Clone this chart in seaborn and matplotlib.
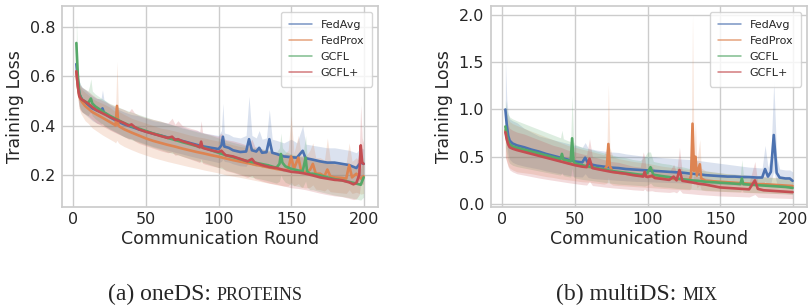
import matplotlib
matplotlib.use("Agg")
import matplotlib.pyplot as plt
import seaborn as sns
import pandas as pd
import numpy as np

methods = ["FedAvg", "FedProx", "GCFL", "GCFL+"]

# ---------------- (a) oneDS: PROTEINS ----------------
a_fedavg_round = [2,3,4,5,6,8,10,13,16,19,20,21,25,30,35,40,45,50,55,60,65,70,75,80,85,90,95,100,102,103,104,107,110,115,119,121,123,126,128,130,133,135,137,140,145,150,154,158,160,165,170,175,180,185,190,195,198,200]
a_fedavg_loss = [0.65,0.58,0.53,0.515,0.505,0.495,0.485,0.47,0.462,0.455,0.47,0.452,0.435,0.418,0.405,0.395,0.385,0.376,0.367,0.36,0.352,0.345,0.338,0.33,0.322,0.315,0.31,0.305,0.32,0.355,0.315,0.31,0.30,0.293,0.295,0.345,0.30,0.295,0.31,0.29,0.292,0.345,0.29,0.285,0.275,0.272,0.27,0.298,0.268,0.262,0.255,0.25,0.25,0.245,0.24,0.228,0.25,0.245]
a_fedavg_lo = [0.60,0.53,0.48,0.465,0.455,0.445,0.435,0.42,0.41,0.405,0.41,0.40,0.385,0.37,0.355,0.345,0.335,0.325,0.315,0.307,0.30,0.292,0.285,0.277,0.27,0.263,0.257,0.25,0.255,0.265,0.255,0.252,0.245,0.237,0.235,0.255,0.24,0.235,0.24,0.23,0.23,0.25,0.228,0.222,0.213,0.21,0.207,0.225,0.205,0.2,0.195,0.19,0.188,0.183,0.178,0.17,0.18,0.185]
a_fedavg_hi = [0.72,0.64,0.58,0.565,0.555,0.545,0.535,0.52,0.51,0.51,0.545,0.505,0.485,0.468,0.455,0.445,0.44,0.43,0.42,0.415,0.41,0.40,0.395,0.385,0.38,0.37,0.365,0.36,0.38,0.49,0.37,0.365,0.355,0.35,0.36,0.52,0.36,0.35,0.38,0.345,0.35,0.465,0.345,0.34,0.33,0.345,0.33,0.40,0.325,0.32,0.315,0.31,0.31,0.305,0.30,0.29,0.31,0.305]

a_fedprox_round = [2,3,4,5,6,8,10,13,16,20,25,28,29,30,31,32,35,40,45,50,55,60,65,70,75,80,85,90,95,100,105,110,115,120,125,130,135,140,145,148,150,152,155,157,160,163,165,167,170,173,175,177,180,185,188,190,192,195,198,200]
a_fedprox_loss = [0.62,0.56,0.52,0.505,0.495,0.48,0.47,0.455,0.445,0.432,0.415,0.405,0.40,0.48,0.40,0.395,0.385,0.372,0.36,0.348,0.338,0.33,0.322,0.315,0.307,0.30,0.293,0.287,0.28,0.274,0.267,0.26,0.254,0.248,0.242,0.236,0.23,0.224,0.22,0.222,0.275,0.225,0.27,0.215,0.212,0.22,0.245,0.205,0.205,0.195,0.222,0.195,0.19,0.188,0.185,0.24,0.19,0.205,0.185,0.195]
a_fedprox_lo = [0.57,0.51,0.47,0.45,0.44,0.42,0.41,0.39,0.378,0.362,0.345,0.335,0.33,0.34,0.33,0.325,0.315,0.302,0.29,0.28,0.27,0.262,0.254,0.247,0.24,0.233,0.227,0.22,0.214,0.208,0.2,0.195,0.19,0.184,0.178,0.172,0.166,0.16,0.155,0.155,0.17,0.155,0.165,0.15,0.147,0.15,0.16,0.142,0.14,0.135,0.145,0.132,0.13,0.127,0.125,0.14,0.125,0.13,0.122,0.125]
a_fedprox_hi = [0.67,0.61,0.57,0.555,0.545,0.535,0.525,0.51,0.5,0.49,0.475,0.46,0.46,0.66,0.46,0.455,0.445,0.43,0.42,0.41,0.40,0.39,0.385,0.378,0.37,0.362,0.355,0.35,0.343,0.337,0.33,0.322,0.315,0.31,0.305,0.30,0.293,0.287,0.282,0.3,0.44,0.29,0.36,0.28,0.275,0.3,0.33,0.27,0.27,0.26,0.35,0.26,0.255,0.25,0.25,0.33,0.255,0.27,0.25,0.26]

a_gcfl_round = [2,3,4,5,6,8,10,11,12,13,15,20,25,30,35,40,45,50,55,60,65,70,75,80,85,90,95,100,105,110,115,120,125,130,135,138,140,142,143,144,146,150,155,158,160,161,163,165,170,175,180,185,190,195,198,200]
a_gcfl_loss = [0.735,0.6,0.53,0.515,0.505,0.498,0.49,0.50,0.51,0.49,0.478,0.458,0.44,0.425,0.41,0.398,0.388,0.378,0.368,0.36,0.35,0.342,0.333,0.325,0.317,0.31,0.3,0.29,0.28,0.272,0.264,0.256,0.25,0.244,0.238,0.232,0.23,0.245,0.285,0.25,0.235,0.225,0.218,0.215,0.27,0.215,0.205,0.205,0.198,0.19,0.183,0.178,0.172,0.165,0.16,0.19]
a_gcfl_lo = [0.68,0.55,0.48,0.465,0.455,0.448,0.44,0.45,0.455,0.44,0.428,0.405,0.387,0.372,0.355,0.343,0.332,0.322,0.312,0.303,0.293,0.285,0.276,0.267,0.258,0.25,0.24,0.23,0.22,0.212,0.203,0.195,0.188,0.182,0.175,0.17,0.167,0.175,0.2,0.185,0.17,0.16,0.153,0.15,0.175,0.15,0.14,0.14,0.132,0.125,0.118,0.113,0.108,0.102,0.098,0.11]
a_gcfl_hi = [0.84,0.66,0.58,0.565,0.555,0.548,0.54,0.56,0.59,0.54,0.528,0.508,0.49,0.478,0.465,0.455,0.445,0.435,0.425,0.418,0.408,0.4,0.39,0.383,0.375,0.368,0.36,0.35,0.34,0.332,0.324,0.316,0.31,0.305,0.3,0.295,0.293,0.31,0.37,0.31,0.295,0.285,0.278,0.275,0.36,0.275,0.265,0.265,0.26,0.252,0.245,0.24,0.235,0.228,0.225,0.27]

a_gcflplus_round = [2,3,4,5,6,8,10,13,16,20,25,30,35,38,40,42,45,50,55,60,65,68,70,72,75,80,85,87,88,89,90,95,100,102,104,105,110,115,120,123,125,130,135,140,145,150,155,160,165,170,175,180,185,190,193,195,197,198,199,200]
a_gcflplus_loss = [0.62,0.56,0.52,0.51,0.505,0.497,0.49,0.475,0.462,0.45,0.435,0.422,0.41,0.40,0.405,0.395,0.385,0.375,0.367,0.358,0.35,0.355,0.342,0.345,0.337,0.328,0.318,0.312,0.335,0.31,0.308,0.30,0.293,0.298,0.285,0.28,0.275,0.265,0.255,0.265,0.25,0.24,0.232,0.228,0.22,0.213,0.21,0.205,0.198,0.19,0.185,0.18,0.178,0.17,0.162,0.168,0.2,0.32,0.25,0.245]
a_gcflplus_lo = [0.575,0.515,0.47,0.46,0.455,0.447,0.44,0.425,0.41,0.398,0.382,0.368,0.355,0.345,0.348,0.338,0.328,0.318,0.308,0.298,0.29,0.293,0.28,0.282,0.275,0.265,0.255,0.25,0.265,0.248,0.245,0.237,0.23,0.232,0.222,0.217,0.21,0.2,0.19,0.198,0.185,0.175,0.167,0.162,0.155,0.148,0.145,0.14,0.133,0.126,0.12,0.115,0.112,0.105,0.1,0.103,0.12,0.17,0.16,0.165]
a_gcflplus_hi = [0.665,0.605,0.57,0.56,0.555,0.547,0.54,0.525,0.512,0.502,0.488,0.475,0.465,0.455,0.47,0.452,0.442,0.432,0.425,0.418,0.41,0.43,0.405,0.42,0.4,0.39,0.382,0.375,0.42,0.372,0.37,0.363,0.356,0.37,0.348,0.343,0.338,0.33,0.32,0.345,0.315,0.305,0.297,0.293,0.285,0.28,0.275,0.27,0.263,0.255,0.25,0.245,0.243,0.235,0.228,0.24,0.3,0.485,0.35,0.33]

# ---------------- (b) multiDS: MIX ----------------
b_fedavg_round = [2,3,4,5,7,10,15,20,25,30,35,40,45,50,55,57,59,62,65,70,75,80,85,90,95,100,105,110,115,120,125,130,135,140,145,150,155,160,165,170,175,179,181,183,185,187,189,191,195,198,200]
b_fedavg_loss = [1.0,0.83,0.72,0.67,0.64,0.62,0.60,0.575,0.555,0.53,0.51,0.49,0.47,0.45,0.44,0.49,0.43,0.415,0.405,0.395,0.385,0.38,0.37,0.365,0.36,0.355,0.35,0.345,0.34,0.335,0.33,0.32,0.315,0.305,0.30,0.295,0.29,0.29,0.285,0.285,0.28,0.28,0.37,0.29,0.34,0.73,0.33,0.28,0.27,0.27,0.245]
b_fedavg_lo = [0.75,0.62,0.52,0.47,0.44,0.42,0.4,0.385,0.37,0.35,0.335,0.32,0.305,0.29,0.285,0.32,0.28,0.27,0.265,0.26,0.255,0.25,0.245,0.24,0.238,0.235,0.232,0.23,0.227,0.225,0.222,0.218,0.215,0.21,0.207,0.205,0.202,0.2,0.198,0.197,0.195,0.195,0.24,0.2,0.22,0.35,0.22,0.195,0.19,0.19,0.175]
b_fedavg_hi = [1.54,1.1,0.95,0.9,0.88,0.86,0.8,0.76,0.72,0.7,0.68,0.66,0.64,0.62,0.6,0.65,0.59,0.58,0.57,0.56,0.55,0.545,0.53,0.52,0.51,0.5,0.5,0.49,0.485,0.48,0.475,0.47,0.46,0.45,0.44,0.43,0.42,0.41,0.4,0.39,0.385,0.38,0.62,0.39,0.5,1.3,0.5,0.37,0.36,0.36,0.34]

b_fedprox_round = [2,3,4,5,7,10,15,20,25,30,35,40,45,50,55,60,65,70,72,73,74,76,80,85,90,95,100,105,110,115,120,125,129,130,131,132,133,134,136,137,140,145,150,155,160,165,170,175,180,185,190,195,200]
b_fedprox_loss = [0.78,0.7,0.64,0.62,0.6,0.58,0.56,0.54,0.52,0.5,0.48,0.455,0.435,0.415,0.4,0.39,0.375,0.36,0.4,0.635,0.4,0.34,0.33,0.32,0.31,0.3,0.295,0.285,0.275,0.27,0.262,0.258,0.255,0.3,0.85,0.35,0.5,0.3,0.42,0.27,0.245,0.24,0.235,0.23,0.225,0.22,0.215,0.21,0.21,0.205,0.2,0.195,0.19]
b_fedprox_lo = [0.5,0.45,0.4,0.38,0.36,0.34,0.33,0.32,0.305,0.29,0.28,0.265,0.255,0.245,0.235,0.23,0.22,0.21,0.22,0.28,0.22,0.2,0.195,0.19,0.185,0.18,0.175,0.17,0.165,0.16,0.155,0.152,0.15,0.17,0.4,0.2,0.25,0.17,0.2,0.15,0.14,0.137,0.134,0.13,0.127,0.124,0.12,0.118,0.116,0.113,0.11,0.108,0.105]
b_fedprox_hi = [1.0,0.95,0.9,0.87,0.85,0.83,0.8,0.77,0.74,0.71,0.68,0.65,0.62,0.6,0.58,0.56,0.54,0.52,0.6,1.26,0.6,0.5,0.48,0.465,0.45,0.44,0.43,0.415,0.4,0.39,0.38,0.37,0.365,0.45,2.0,0.55,0.86,0.45,0.68,0.38,0.35,0.34,0.33,0.32,0.315,0.31,0.3,0.295,0.29,0.285,0.28,0.275,0.27]

b_gcfl_round = [2,3,4,5,7,10,15,20,25,30,35,40,41,42,45,47,48,49,50,55,60,65,70,75,80,85,90,95,98,100,102,104,110,115,120,125,130,135,140,145,150,155,160,164,165,166,170,175,180,185,190,195,200]
b_gcfl_loss = [0.82,0.72,0.66,0.63,0.61,0.595,0.575,0.555,0.535,0.515,0.495,0.475,0.53,0.47,0.46,0.45,0.695,0.45,0.43,0.41,0.395,0.38,0.365,0.35,0.34,0.33,0.32,0.31,0.31,0.33,0.39,0.31,0.295,0.285,0.27,0.26,0.25,0.245,0.235,0.23,0.225,0.22,0.215,0.21,0.27,0.21,0.205,0.2,0.195,0.19,0.185,0.18,0.17]
b_gcfl_lo = [0.6,0.52,0.46,0.43,0.41,0.395,0.38,0.365,0.35,0.335,0.32,0.305,0.33,0.3,0.29,0.285,0.38,0.285,0.275,0.26,0.25,0.24,0.23,0.22,0.21,0.205,0.2,0.195,0.19,0.2,0.22,0.19,0.18,0.175,0.165,0.16,0.155,0.15,0.145,0.14,0.135,0.132,0.13,0.128,0.15,0.127,0.123,0.12,0.117,0.114,0.11,0.107,0.1]
b_gcfl_hi = [1.1,1.0,0.95,0.92,0.9,0.88,0.85,0.82,0.79,0.76,0.73,0.7,0.78,0.69,0.67,0.66,1.15,0.66,0.63,0.6,0.58,0.56,0.54,0.52,0.5,0.49,0.47,0.46,0.5,0.55,0.55,0.45,0.43,0.42,0.4,0.39,0.37,0.36,0.35,0.34,0.33,0.32,0.315,0.31,0.47,0.31,0.3,0.29,0.285,0.28,0.275,0.27,0.26]

b_gcflplus_round = [2,3,4,5,7,10,15,20,25,30,35,40,45,50,55,58,60,62,65,70,75,80,85,90,95,97,98,99,100,103,105,110,115,118,120,122,124,130,135,140,145,150,155,160,165,170,174,176,180,185,190,195,200]
b_gcflplus_loss = [0.76,0.68,0.63,0.6,0.585,0.57,0.55,0.53,0.51,0.49,0.47,0.45,0.43,0.41,0.395,0.39,0.48,0.38,0.37,0.355,0.34,0.33,0.32,0.305,0.295,0.29,0.34,0.29,0.285,0.3,0.275,0.265,0.255,0.29,0.25,0.36,0.245,0.23,0.215,0.205,0.19,0.175,0.17,0.165,0.16,0.155,0.25,0.16,0.145,0.14,0.135,0.13,0.125]
b_gcflplus_lo = [0.5,0.44,0.39,0.36,0.34,0.32,0.305,0.29,0.275,0.262,0.25,0.238,0.226,0.215,0.205,0.2,0.24,0.195,0.19,0.18,0.172,0.165,0.158,0.15,0.145,0.142,0.16,0.14,0.137,0.14,0.132,0.127,0.122,0.13,0.118,0.15,0.115,0.108,0.1,0.095,0.09,0.085,0.082,0.08,0.077,0.074,0.1,0.072,0.068,0.065,0.062,0.06,0.057]
b_gcflplus_hi = [0.95,0.88,0.83,0.8,0.78,0.76,0.74,0.71,0.68,0.65,0.62,0.6,0.57,0.55,0.53,0.52,0.69,0.5,0.49,0.47,0.45,0.44,0.42,0.4,0.39,0.55,0.5,0.38,0.375,0.4,0.36,0.35,0.34,0.42,0.33,0.6,0.32,0.3,0.29,0.275,0.26,0.245,0.24,0.235,0.23,0.225,0.45,0.225,0.21,0.205,0.2,0.195,0.19]

a_yticks = [0.2, 0.4, 0.6, 0.8]
b_yticks = [0.0, 0.5, 1.0, 1.5, 2.0]
xticks = [0, 50, 100, 150, 200]


def long_frame(series):
    rows = []
    for name, (r, m, lo, hi) in zip(methods, series):
        assert len(r) == len(m) == len(lo) == len(hi), name
        for x, a, b, c in zip(r, m, lo, hi):
            rows += [(name, x, b), (name, x, a), (name, x, c)]
    return pd.DataFrame(rows, columns=["method", "round", "loss"])


df_a = long_frame([
    (a_fedavg_round, a_fedavg_loss, a_fedavg_lo, a_fedavg_hi),
    (a_fedprox_round, a_fedprox_loss, a_fedprox_lo, a_fedprox_hi),
    (a_gcfl_round, a_gcfl_loss, a_gcfl_lo, a_gcfl_hi),
    (a_gcflplus_round, a_gcflplus_loss, a_gcflplus_lo, a_gcflplus_hi),
])
df_b = long_frame([
    (b_fedavg_round, b_fedavg_loss, b_fedavg_lo, b_fedavg_hi),
    (b_fedprox_round, b_fedprox_loss, b_fedprox_lo, b_fedprox_hi),
    (b_gcfl_round, b_gcfl_loss, b_gcfl_lo, b_gcfl_hi),
    (b_gcflplus_round, b_gcflplus_loss, b_gcflplus_lo, b_gcflplus_hi),
])

sns.set_theme(style="whitegrid", palette="deep")
plt.rcParams["font.family"] = ["DejaVu Sans"]

W, H = 809, 308
fig = plt.figure(figsize=(W / 100, H / 100), dpi=100)
ax1 = fig.add_axes([62 / W, 1 - 207 / H, 316 / W, 201 / H])
ax2 = fig.add_axes([491 / W, 1 - 207 / H, 316 / W, 201 / H])

palette = sns.color_palette("deep", 4)

for ax, df, ylim, yt in [(ax1, df_a, (0.07, 0.885), a_yticks),
                         (ax2, df_b, (-0.032, 2.095), b_yticks)]:
    sns.lineplot(data=df, x="round", y="loss", hue="method", hue_order=methods,
                 palette=palette, estimator="median",
                 errorbar=lambda v: (v.min(), v.max()),
                 err_kws={"alpha": 0.2, "linewidth": 0},
                 linewidth=1.9, ax=ax)
    ax.set_xlim(-7.9, 209.9)
    ax.set_ylim(*ylim)
    ax.set_xticks(xticks)
    ax.set_yticks(yt)
    ax.tick_params(axis="both", labelsize=11.5, length=0)
    ax.tick_params(axis="x", pad=3.5)
    ax.tick_params(axis="y", pad=5)
    ax.set_xlabel("Communication Round", fontsize=12.5, labelpad=2.5)
    ax.set_ylabel("Training Loss", fontsize=12.5, labelpad=4)
    handles, labels = ax.get_legend_handles_labels()
    leg = ax.legend(handles, labels, loc="upper right", fontsize=8, frameon=True,
                    borderpad=0.75, labelspacing=0.55, handlelength=2.0)
    for h in leg.get_lines():
        h.set_linewidth(1.1)
        h.set_alpha(0.75)

# captions with small caps
serif = ["Liberation Serif", "DejaVu Serif"]
fig.canvas.draw()
renderer = fig.canvas.get_renderer()
for cx, main, sc in [(205, "(a) oneDS:", "PROTEINS"), (637, "(b) multiDS:", "MIX")]:
    t1 = fig.text(0, 0.025, main, fontsize=17, family=serif, va="baseline", ha="left")
    t2 = fig.text(0, 0.025, sc, fontsize=13, family=serif, va="baseline", ha="left")
    w1 = t1.get_window_extent(renderer).width
    w2 = t2.get_window_extent(renderer).width
    gap = 17 * 0.25 * 100 / 72
    start = cx - (w1 + gap + w2) / 2
    t1.set_x(start / W)
    t2.set_x((start + w1 + gap) / W)

fig.savefig("out.png", dpi=100)
